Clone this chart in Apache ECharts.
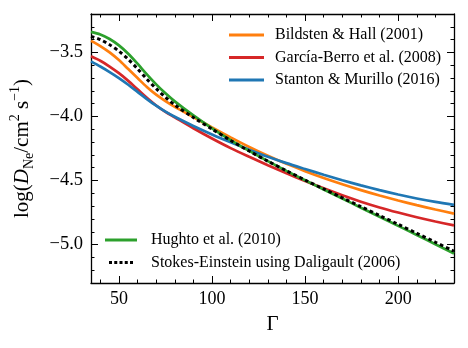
<!DOCTYPE html>
<html>
<head>
<meta charset="utf-8">
<script src="https://cdn.jsdelivr.net/npm/echarts@6/dist/echarts.min.js"></script>
<style>
  html, body { margin: 0; padding: 0; background: #fff; }
  #chart { width: 468px; height: 348px; }
</style>
</head>
<body>
<div id="chart"></div>
<script>
// Gamma values (x)
const gamma = [35, 40, 45, 50, 55, 60, 65, 70, 75, 80, 90, 100, 110, 120, 130, 140, 150, 160, 170, 180, 190, 200, 210, 220, 230]

// log D_Ne for each model
const bildsten = [-3.41, -3.45, -3.50, -3.56, -3.63, -3.70, -3.77, -3.83, -3.88, -3.925, -4.005, -4.085, -4.163, -4.238, -4.307, -4.37, -4.427, -4.48, -4.529, -4.575, -4.617, -4.656, -4.692, -4.726, -4.758]
const garciaBerro = [-3.53, -3.565, -3.61, -3.662, -3.722, -3.788, -3.854, -3.914, -3.964, -4.007, -4.092, -4.172, -4.247, -4.315, -4.381, -4.444, -4.504, -4.561, -4.615, -4.665, -4.71, -4.75, -4.787, -4.82, -4.85]
const stanton = [-3.57, -3.61, -3.653, -3.70, -3.752, -3.808, -3.864, -3.916, -3.962, -4.002, -4.074, -4.14, -4.201, -4.259, -4.314, -4.364, -4.41, -4.455, -4.498, -4.538, -4.575, -4.609, -4.64, -4.667, -4.69]
const hughto = [-3.34, -3.36, -3.395, -3.445, -3.51, -3.588, -3.671, -3.749, -3.819, -3.882, -3.992, -4.092, -4.184, -4.269, -4.349, -4.425, -4.498, -4.57, -4.641, -4.712, -4.783, -4.854, -4.925, -4.997, -5.07]
const stokesEinstein = [-3.375, -3.40, -3.44, -3.49, -3.553, -3.628, -3.708, -3.783, -3.85, -3.91, -4.008, -4.098, -4.187, -4.27, -4.349, -4.424, -4.496, -4.566, -4.635, -4.704, -4.773, -4.842, -4.912, -4.982, -5.052]

// ticks
const xMajor = [50, 100, 150, 200]
const xMinor = [40, 60, 70, 80, 90, 110, 120, 130, 140, 160, 170, 180, 190, 210, 220]
const yMajor = [-5.0, -4.5, -4.0, -3.5]
const yMinor = [-5.3, -5.2, -5.1, -4.9, -4.8, -4.7, -4.6, -4.4, -4.3, -4.2, -4.1, -3.9, -3.8, -3.7, -3.6, -3.4, -3.3, -3.2]

const serif = '"Liberation Serif", "DejaVu Serif", serif'

function pairs(ys) {
  return gamma.map((g, i) => [g, ys[i]])
}

function xAx(pos, ticks, len, showLine, showLabel) {
  return {
    type: 'value', position: pos, min: 35, max: 230,
    axisLine: { show: showLine, lineStyle: { color: '#000', width: 1.3 } },
    axisTick: { show: true, inside: true, length: len, customValues: ticks, lineStyle: { color: '#000', width: 1 } },
    axisLabel: { show: showLabel, customValues: ticks, color: '#000', fontFamily: serif, fontSize: 18, margin: 7 },
    splitLine: { show: false }
  }
}

function yAx(pos, ticks, len, showLine, showLabel) {
  return {
    type: 'value', position: pos, min: -5.3, max: -3.2,
    axisLine: { show: showLine, onZero: false, lineStyle: { color: '#000', width: 1.3 } },
    axisTick: { show: true, inside: true, length: len, customValues: ticks, lineStyle: { color: '#000', width: 1 } },
    axisLabel: {
      show: showLabel, customValues: ticks, color: '#000', fontFamily: serif, fontSize: 18.5, margin: 8,
      formatter: v => v.toFixed(1).replace('-', '\u2212')
    },
    splitLine: { show: false }
  }
}

const xAxes = [
  xAx('bottom', xMajor, 7, true, true),
  xAx('bottom', xMinor, 3.5, false, false),
  xAx('top', xMajor, 7, true, false),
  xAx('top', xMinor, 3.5, false, false)
]
xAxes[0].name = '\u0393'
xAxes[0].nameLocation = 'middle'
xAxes[0].nameGap = 31
xAxes[0].nameTextStyle = { color: '#000', fontFamily: serif, fontSize: 21 }

const yAxes = [
  yAx('left', yMajor, 7, true, true),
  yAx('left', yMinor, 3.5, false, false),
  yAx('right', yMajor, 7, true, false),
  yAx('right', yMinor, 3.5, false, false)
]
yAxes[0].name = '{n|log(}{i|D}{sub|Ne}{n|/cm}{sup|2}{n| s}{sup|\u22121}{n|)}'
yAxes[0].nameLocation = 'middle'
yAxes[0].nameGap = 55
yAxes[0].nameTextStyle = {
  color: '#000', fontFamily: serif, fontSize: 21,
  rich: {
    n: { color: '#000', fontFamily: serif, fontSize: 21, lineHeight: 28 },
    i: { color: '#000', fontFamily: serif, fontSize: 21, fontStyle: 'italic', lineHeight: 28 },
    sub: { color: '#000', fontFamily: serif, fontSize: 14, verticalAlign: 'bottom' },
    sup: { color: '#000', fontFamily: serif, fontSize: 14, verticalAlign: 'top' }
  }
}

function lineSeries(name, ys, color, dash) {
  return {
    name: name, type: 'line', data: pairs(ys), smooth: 0.3,
    symbol: 'none', xAxisIndex: 0, yAxisIndex: 0,
    lineStyle: { color: color, width: dash ? 3 : 2.7, type: dash ? [3.5, 3] : 'solid', cap: 'butt' },
    itemStyle: { color: color }
  }
}

const dashIcon = 'path://M0,0h4v4h-4zM7,0h4v4h-4zM14,0h4v4h-4zM21,0h4v4h-4zM28,0h4v4h-4z'

const option = {
  animation: false,
  grid: { left: 91, right: 14, top: 14, bottom: 65 },
  xAxis: xAxes,
  yAxis: yAxes,
  legend: [{
    orient: 'vertical', left: 229, top: 26, padding: 0, itemWidth: 35, itemHeight: 3, itemGap: 4.5,
    icon: 'rect',
    textStyle: { color: '#000', fontFamily: serif, fontSize: 16, lineHeight: 18, padding: [0, 0, 0, 6] },
    data: ['Bildsten & Hall (2001)', 'García-Berro et al. (2008)', 'Stanton & Murillo (2016)']
  }, {
    orient: 'vertical', left: 105, top: 231, padding: 0, itemWidth: 32, itemHeight: 3, itemGap: 4.5,
    icon: 'rect',
    textStyle: { color: '#000', fontFamily: serif, fontSize: 16, lineHeight: 18, padding: [0, 0, 0, 9] },
    data: ['Hughto et al. (2010)', { name: 'Stokes-Einstein using Daligault (2006)', icon: dashIcon }]
  }],
  series: [
    lineSeries('Bildsten & Hall (2001)', bildsten, '#ff7f0e'),
    lineSeries('García-Berro et al. (2008)', garciaBerro, '#d62728'),
    lineSeries('Stanton & Murillo (2016)', stanton, '#1f77b4'),
    lineSeries('Hughto et al. (2010)', hughto, '#2ca02c'),
    lineSeries('Stokes-Einstein using Daligault (2006)', stokesEinstein, '#000', true)
  ]
}

const chart = echarts.init(document.getElementById('chart'), null, { renderer: 'canvas' })
chart.setOption(option)
</script>
</body>
</html>
